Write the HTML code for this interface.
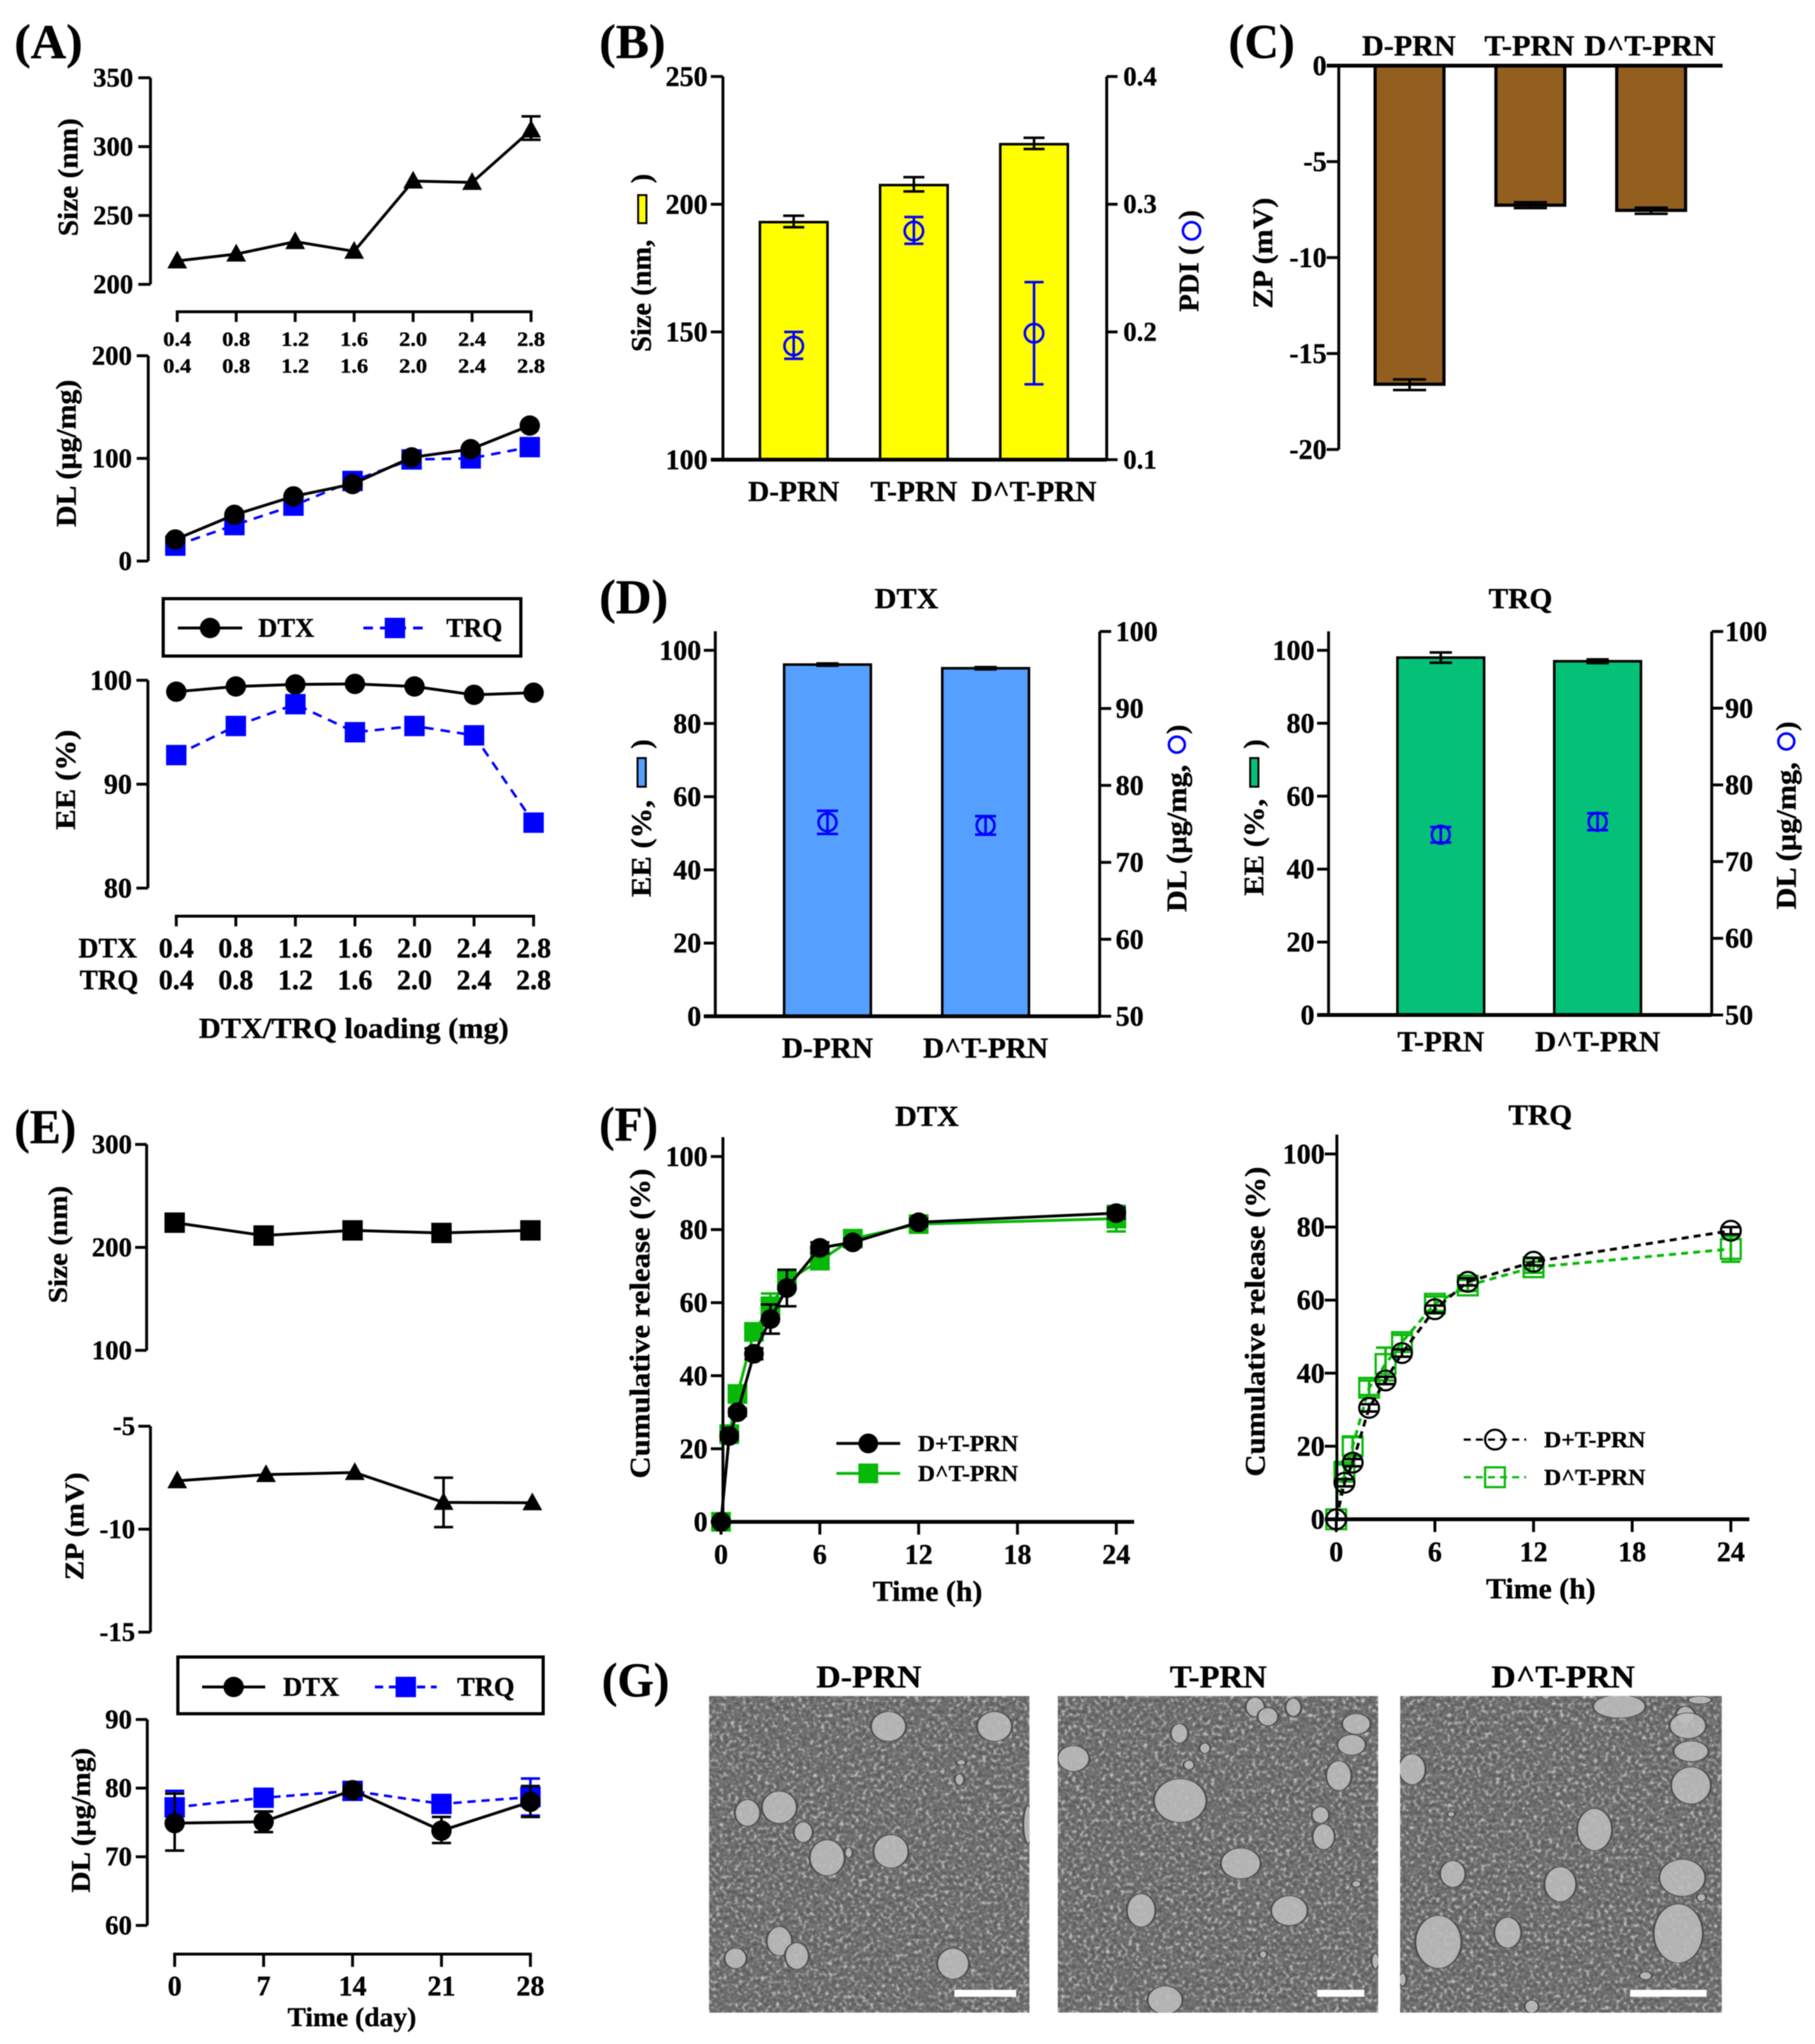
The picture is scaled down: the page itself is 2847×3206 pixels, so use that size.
<!DOCTYPE html>
<html lang="en">
<head>
<meta charset="utf-8">
<title>Nanoparticle characterisation figure</title>
<style>
html,body{margin:0;padding:0;background:#fff;width:2847px;height:3206px;overflow:hidden}
svg{display:block;filter:blur(.7px)}
text{font-family:"Liberation Serif",serif;font-weight:bold;fill:#000;stroke:#000;stroke-width:.5px}
</style>
</head>
<body>
<svg id="figure" xmlns="http://www.w3.org/2000/svg" width="2847" height="3206" viewBox="0 0 2847 3206">
<defs>
<filter id="grain" x="0" y="0" width="100%" height="100%" color-interpolation-filters="sRGB">
<feTurbulence type="fractalNoise" baseFrequency="0.17" numOctaves="2" seed="7"/>
<feColorMatrix type="matrix" values="1.6 0 0 0 -0.3  1.6 0 0 0 -0.3  1.6 0 0 0 -0.3  0 0 0 0 1"/>
<feComponentTransfer>
<feFuncR type="table" tableValues="0.34 0.36 0.39 0.42 0.45 0.55 0.72 0.78"/>
<feFuncG type="table" tableValues="0.34 0.36 0.39 0.42 0.45 0.55 0.72 0.78"/>
<feFuncB type="table" tableValues="0.34 0.36 0.39 0.42 0.45 0.55 0.72 0.78"/>
</feComponentTransfer>
<feGaussianBlur stdDeviation="0.8"/>
</filter>
<clipPath id="clip-a"><rect x="1112" y="2660" width="503" height="497"/></clipPath>
<clipPath id="clip-b"><rect x="1659" y="2660" width="503" height="497"/></clipPath>
<clipPath id="clip-c"><rect x="2196" y="2660" width="505" height="497"/></clipPath>
</defs>

<g clip-path="url(#clip-a)">
<rect x="1112" y="2660" width="503" height="497" filter="url(#grain)"/>
<g transform="translate(900,2580) scale(1.25,.4023)" fill="#bdbdbd" fill-opacity=".88" stroke="#4d4d4d" stroke-width="2.5">
<ellipse cx="395" cy="318" rx="22" ry="58"/>
<ellipse cx="528" cy="318" rx="22" ry="58"/>
<ellipse cx="218" cy="655" rx="16" ry="52"/>
<ellipse cx="258" cy="633" rx="22" ry="63"/>
<ellipse cx="288" cy="730" rx="12" ry="40"/>
<ellipse cx="318" cy="830" rx="22" ry="70"/>
<ellipse cx="398" cy="805" rx="22" ry="65"/>
<ellipse cx="203" cy="1222" rx="14" ry="40"/>
<ellipse cx="258" cy="1155" rx="16" ry="57"/>
<ellipse cx="280" cy="1213" rx="15" ry="52"/>
<ellipse cx="476" cy="1243" rx="20" ry="60"/>
<ellipse cx="345" cy="810" rx="5" ry="20"/>
<ellipse cx="484" cy="525" rx="6" ry="22"/>
<ellipse cx="486" cy="458" rx="6" ry="10"/>
<ellipse cx="570" cy="700" rx="6" ry="75"/>
</g>
<rect x="1497" y="3121" width="97" height="11" fill="#fff"/>
</g>

<g clip-path="url(#clip-b)">
<rect x="1659" y="2660" width="503" height="497" filter="url(#grain)"/>
<g transform="translate(900,2580) scale(1.25,.4023)" fill="#bdbdbd" fill-opacity=".88" stroke="#4d4d4d" stroke-width="2.5">
<ellipse cx="855" cy="242" rx="12" ry="38"/>
<ellipse cx="871" cy="280" rx="13" ry="35"/>
<ellipse cx="903" cy="243" rx="10" ry="35"/>
<ellipse cx="982" cy="308" rx="18" ry="40"/>
<ellipse cx="976" cy="390" rx="18" ry="40"/>
<ellipse cx="760" cy="345" rx="11" ry="38"/>
<ellipse cx="792" cy="403" rx="7" ry="20"/>
<ellipse cx="627" cy="443" rx="20" ry="50"/>
<ellipse cx="772" cy="468" rx="7" ry="18"/>
<ellipse cx="960" cy="510" rx="16" ry="58"/>
<ellipse cx="761" cy="607" rx="33" ry="85"/>
<ellipse cx="937" cy="663" rx="11" ry="32"/>
<ellipse cx="941" cy="748" rx="14" ry="50"/>
<ellipse cx="837" cy="852" rx="25" ry="60"/>
<ellipse cx="898" cy="1036" rx="23" ry="58"/>
<ellipse cx="712" cy="1035" rx="18" ry="65"/>
<ellipse cx="742" cy="1385" rx="22" ry="55"/>
<ellipse cx="1006" cy="1232" rx="5" ry="30"/>
<ellipse cx="982" cy="932" rx="6" ry="12"/>
<ellipse cx="865" cy="1207" rx="5" ry="14"/>
</g>
<rect x="2066" y="3121" width="74" height="11" fill="#fff"/>
</g>

<g clip-path="url(#clip-c)">
<rect x="2196" y="2660" width="505" height="497" filter="url(#grain)"/>
<g transform="translate(900,2580) scale(1.25,.4023)" fill="#bdbdbd" fill-opacity=".88" stroke="#4d4d4d" stroke-width="2.5">
<ellipse cx="1312" cy="240" rx="33" ry="45"/>
<ellipse cx="1413" cy="215" rx="15" ry="15"/>
<ellipse cx="1395" cy="275" rx="12" ry="35"/>
<ellipse cx="1398" cy="315" rx="23" ry="50"/>
<ellipse cx="1402" cy="415" rx="22" ry="40"/>
<ellipse cx="1402" cy="548" rx="25" ry="72"/>
<ellipse cx="1052" cy="485" rx="17" ry="60"/>
<ellipse cx="1281" cy="720" rx="22" ry="82"/>
<ellipse cx="1103" cy="893" rx="16" ry="52"/>
<ellipse cx="1238" cy="933" rx="20" ry="68"/>
<ellipse cx="1391" cy="908" rx="29" ry="72"/>
<ellipse cx="1386" cy="1125" rx="31" ry="115"/>
<ellipse cx="1085" cy="1158" rx="29" ry="103"/>
<ellipse cx="1172" cy="1122" rx="17" ry="60"/>
<ellipse cx="1202" cy="1410" rx="9" ry="25"/>
<ellipse cx="1101" cy="660" rx="5" ry="10"/>
<ellipse cx="1345" cy="1290" rx="8" ry="15"/>
<ellipse cx="1415" cy="985" rx="6" ry="15"/>
<ellipse cx="1040" cy="1305" rx="5" ry="25"/>
</g>
<rect x="2557" y="3121" width="120" height="11" fill="#fff"/>
</g>
</svg>

<script>
/* ---- data arrays ---- */
const loadingCats = ['0.4','0.8','1.2','1.6','2.0','2.4','2.8'];
const aSizeTicks = [200,250,300,350];
const aSizeValues = [217,222,231,224,275,274,312];
const aSizeErrHigh = [null,null,null,null,null,null,322];
const aSizeErrLow = [null,null,null,null,null,null,305];
const aDlTicks = [0,100,200];
const aDlDtx = [21,45,63,75,101,109,132];
const aDlTrq = [15,35,54,78,99,100,111];
const aEeTicks = [80,90,100];
const aEeDtx = [98.9,99.4,99.6,99.65,99.4,98.6,98.8];
const aEeTrq = [92.8,95.6,97.7,95,95.6,94.7,86.3];

const bCats = ['D-PRN','T-PRN','D^T-PRN'];
const bSizeTicks = [100,150,200,250];
const bPdiTicks = ['0.1','0.2','0.3','0.4'];
const bSize = [193,207.5,223.5];
const bSizeHigh = [195.5,210.6,226];
const bSizeLow = [191,205,221.6];
const bPdi = [0.189,0.279,0.199];
const bPdiHigh = [0.2,0.29,0.239];
const bPdiLow = [0.179,0.269,0.159];

const cTicks = [0,-5,-10,-15,-20];
const cZp = [-16.6,-7.27,-7.54];
const cZpLow = [-16.9,-7.42,-7.72];
const cZpHigh = [-16.35,-7.12,-7.4];

const dCatsDtx = ['D-PRN','D^T-PRN'];
const dCatsTrq = ['T-PRN','D^T-PRN'];
const dEeTicks = [0,20,40,60,80,100];
const dDlTicks = [50,60,70,80,90,100];
const dEeDtx = [96.1,95.1];
const dEeDtxErr = [0.3,0.3];
const dDlDtx = [75.2,74.8];
const dDlDtxErr = [1.5,1.2];
const dEeTrq = [98,97];
const dEeTrqErr = [1.4,0.5];
const dDlTrq = [73.5,75.2];
const dDlTrqErr = [1,1.1];

const eDays = [0,7,14,21,28];
const eSizeTicks = [100,200,300];
const eSize = [224,211.5,216.5,214,216.5];
const eZpTicks = [-5,-10,-15];
const eZp = [-7.65,-7.35,-7.25,-8.7,-8.72];
const eZpHigh = [null,null,null,-7.5,null];
const eZpLow = [null,null,null,-9.9,null];
const eDlTicks = [60,70,80,90];
const eDlDtx = [74.9,75.1,79.7,73.8,78];
const eDlDtxHigh = [79.2,76.6,80.4,75.8,80.3];
const eDlDtxLow = [70.9,73.6,79,72,75.8];
const eDlTrq = [77.2,78.6,79.6,77.7,78.7];
const eDlTrqHigh = [79.6,79.5,80.5,78.5,81.4];
const eDlTrqLow = [74.8,77.5,78.7,76.9,76];

const fHours = [0,0.5,1,2,3,4,6,8,12,24];
const fXTicks = [0,6,12,18,24];
const fYTicks = [0,20,40,60,80,100];
const fDtxDT = [0,23.5,30,46,55.5,64,75,76.5,82,84.5];
const fDtxDTErr = [0,1,1,1.5,4,5,1.5,1,1,1.5];
const fDtxDaT = [0,24,35,52,59,66,71.5,77.5,81.5,83];
const fDtxDaTErr = [0,1.5,2,2,3.5,2,2,1.5,1.5,3.5];
const fTrqDT = [0,10,15.5,30.5,38,45.5,57.5,65,70.5,79];
const fTrqDTErr = [0,1,1,1,1,1,1,1,1,1];
const fTrqDaT = [0,13,20,36,42.5,48.5,59,64,69,74];
const fTrqDaTErr = [0,2,2.5,2,4.5,2,2,1.5,1.5,3.5];

const gCats = ['D-PRN','T-PRN','D^T-PRN'];

/* ---- helpers ---- */
const NS = 'http://www.w3.org/2000/svg';
const root = document.getElementById('figure');
function make(tag, name) {
  const el = document.createElementNS(NS, tag);
  
  
  root.appendChild(el);
  return el;
}
function scale(v0, v1, p0, p1) { return v => p0 + (v - v0) * (p1 - p0) / (v1 - v0); }
function line(name, x1, y1, x2, y2, w = 4.5, color = '#000', dash = null) {
  const el = make('line', name);
  el.setAttribute('x1', x1); el.setAttribute('y1', y1);
  el.setAttribute('x2', x2); el.setAttribute('y2', y2);
  el.setAttribute('stroke', color); el.setAttribute('stroke-width', w);
  if (dash) el.setAttribute('stroke-dasharray', dash);
  return el;
}
function label(name, str, x, y, size, anchor = 'middle', len = null, rot = false, color = '#000') {
  const el = make('text', name);
  el.textContent = str;
  el.setAttribute('x', x);
  el.setAttribute('y', y + size * 0.33);
  el.setAttribute('font-size', size);
  el.setAttribute('text-anchor', anchor);
  el.style.fill = color;
  if (len) { el.setAttribute('textLength', len); el.setAttribute('lengthAdjust', 'spacingAndGlyphs'); }
  if (rot) el.setAttribute('transform', 'rotate(-90 ' + x + ' ' + y + ')');
  return el;
}
function rectBox(name, x, y, w, h, fill, stroke = '#000', sw = 4) {
  const el = make('rect', name);
  el.setAttribute('x', x); el.setAttribute('y', y);
  el.setAttribute('width', w); el.setAttribute('height', h);
  el.setAttribute('fill', fill); el.setAttribute('stroke', stroke); el.setAttribute('stroke-width', sw);
  return el;
}
function mark(kind, name, x, y, size, color, open = false, sw = 4) {
  let el;
  if (kind === 'circle') {
    el = make('circle', name);
    el.setAttribute('cx', x); el.setAttribute('cy', y); el.setAttribute('r', size / 2);
  } else if (kind === 'square') {
    el = make('rect', name);
    el.setAttribute('x', x - size / 2); el.setAttribute('y', y - size / 2);
    el.setAttribute('width', size); el.setAttribute('height', size);
  } else {
    el = make('polygon', name);
    const h = size * 0.9;
    el.setAttribute('points', (x - size / 2) + ',' + (y + h * 0.42) + ' ' + (x + size / 2) + ',' + (y + h * 0.42) + ' ' + x + ',' + (y - h * 0.58));
  }
  el.setAttribute('fill', open ? 'none' : color);
  if (open) { el.setAttribute('stroke', color); el.setAttribute('stroke-width', sw); }
  return el;
}
function yAxis(prefix, axisX, sy, ticks, labels, labelX, side, size, tickLen, lo, hi, w = 4.5) {
  line(prefix + '-y-axis', axisX, sy(lo), axisX, sy(hi), w);
  ticks.forEach((t, i) => {
    const y = sy(t);
    line(prefix + '-y-tick', axisX, y, axisX + side * tickLen, y, w);
    label(prefix + '-y-tick-label', labels[i], labelX, y, size, side < 0 ? 'end' : 'start');
  });
}
function xAxis(prefix, axisY, sx, ticks, tickLen, w = 4.5) {
  line(prefix + '-x-axis', sx(ticks[0]) - w / 2, axisY, sx(ticks[ticks.length - 1]) + w / 2, axisY, w);
  ticks.forEach(t => { line(prefix + '-x-tick', sx(t), axisY, sx(t), axisY + tickLen, w); });
}
function series(name, xs, ys, sx, sy, color, w = 4.5, dash = null) {
  const el = make('polyline', name);
  el.setAttribute('points', xs.map((x, i) => sx(x) + ',' + sy(ys[i])).join(' '));
  el.setAttribute('fill', 'none');
  el.setAttribute('stroke', color);
  el.setAttribute('stroke-width', w);
  if (dash) el.setAttribute('stroke-dasharray', dash);
  return el;
}
function errorBar(name, x, yHigh, yLow, cap, color = '#000', w = 4) {
  line(name, x, yHigh, x, yLow, w, color);
  line(name + '-cap', x - cap / 2, yHigh, x + cap / 2, yHigh, w, color);
  line(name + '-cap', x - cap / 2, yLow, x + cap / 2, yLow, w, color);
}
function legendLine(name, x1, x2, y, kind, color, text, tx, tlen, size, dash = null, open = false, mSize = 32, w = 4.5) {
  line(name + '-line', x1, y, x2, y, w, color, dash);
  mark(kind, name + '-marker', (x1 + x2) / 2, y, mSize, color, open, w);
  label(name + '-label', text, tx, y, size, 'start', tlen);
}
const loadNum = loadingCats.map(parseFloat);
const BLUE = '#0000ff', GREEN = '#08b808', DASH = '15 11';

/* ---- panel letters ---- */
label('panel-label-a', '(A)', 76, 66, 76, 'middle', 107);
label('panel-label-b', '(B)', 992, 66, 76, 'middle', 104);
label('panel-label-c', '(C)', 1979, 66, 76, 'middle', 104);
label('panel-label-d', '(D)', 994, 937, 76, 'middle', 108);
label('panel-label-e', '(E)', 71, 1768, 76, 'middle', 97);
label('panel-label-f', '(F)', 986, 1764, 76, 'middle', 92);
label('panel-label-g', '(G)', 997, 2636, 76, 'middle', 106);

/* ---- panel A ---- */
{
  const sy = scale(200, 350, 446, 122), sx = scale(0.4, 2.8, 278, 833);
  yAxis('a-size', 236, sy, aSizeTicks, aSizeTicks.map(String), 209, -1, 42, 19, 200, 350);
  label('a-size-y-title', 'Size (nm)', 107, 278, 44, 'middle', 185, true);
  xAxis('a-size', 489, sx, loadNum, 16);
  loadingCats.forEach((c, i) => {
    label('a-size-x-label-dtx', c, sx(loadNum[i]), 532, 32, 'middle', 44);
    label('a-size-x-label-trq', c, sx(loadNum[i]), 574, 32, 'middle', 44);
  });
  aSizeValues.forEach((v, i) => {
    if (aSizeErrHigh[i] !== null) errorBar('a-size-error', sx(loadNum[i]), sy(aSizeErrHigh[i]), sy(aSizeErrLow[i]), 30);
  });
  series('a-size-line', loadNum, aSizeValues, sx, sy, '#000');
  aSizeValues.forEach((v, i) => { mark('triangle', 'a-size-point', sx(loadNum[i]), sy(v), 31, '#000'); });
}
{
  const sy = scale(0, 200, 880, 558), sx = scale(0.4, 2.8, 275, 831);
  yAxis('a-dl', 232.5, sy, aDlTicks, aDlTicks.map(String), 207, -1, 42, 18, 0, 200);
  label('a-dl-y-title', 'DL (µg/mg)', 104, 711, 44, 'middle', 231, true);
  series('a-dl-trq-line', loadNum, aDlTrq, sx, sy, BLUE, 4, DASH);
  aDlTrq.forEach((v, i) => { mark('square', 'a-dl-trq-point', sx(loadNum[i]), sy(v), 32, BLUE); });
  series('a-dl-dtx-line', loadNum, aDlDtx, sx, sy, '#000');
  aDlDtx.forEach((v, i) => { mark('circle', 'a-dl-dtx-point', sx(loadNum[i]), sy(v), 32, '#000'); });
}
rectBox('a-legend-box', 256, 939, 561, 90, '#fff', '#000', 5);
legendLine('a-legend-dtx', 279, 380, 985, 'circle', '#000', 'DTX', 405, 88, 42);
legendLine('a-legend-trq', 570, 669, 985, 'square', BLUE, 'TRQ', 700, 88, 42, DASH);
{
  const sy = scale(80, 100, 1393, 1067), sx = scale(0.4, 2.8, 276.5, 837);
  yAxis('a-ee', 232, sy, aEeTicks, aEeTicks.map(String), 207, -1, 44, 18, 80, 100);
  label('a-ee-y-title', 'EE (%)', 103, 1223, 44, 'middle', 157, true);
  xAxis('a-ee', 1437, sx, loadNum, 16);
  label('a-row-label-dtx', 'DTX', 215, 1487, 44, 'end', 92);
  label('a-row-label-trq', 'TRQ', 217, 1537, 44, 'end', 92);
  loadingCats.forEach((c, i) => {
    label('a-ee-x-label-dtx', c, sx(loadNum[i]), 1487, 44);
    label('a-ee-x-label-trq', c, sx(loadNum[i]), 1537, 44);
  });
  label('a-x-title', 'DTX/TRQ loading (mg)', 555, 1613, 46, 'middle', 486);
  series('a-ee-dtx-line', loadNum, aEeDtx, sx, sy, '#000');
  aEeDtx.forEach((v, i) => { mark('circle', 'a-ee-dtx-point', sx(loadNum[i]), sy(v), 32, '#000'); });
  series('a-ee-trq-line', loadNum, aEeTrq, sx, sy, BLUE, 4, DASH);
  aEeTrq.forEach((v, i) => { mark('square', 'a-ee-trq-point', sx(loadNum[i]), sy(v), 32, BLUE); });
}

/* ---- panel B ---- */
{
  const sy = scale(100, 250, 721, 120), sp = scale(0.1, 0.4, 721, 120), sx = scale(0, 2, 1245, 1622);
  bSize.forEach((v, i) => {
    rectBox('b-size-bar', sx(i) - 53, sy(v), 106, 721 - sy(v), '#ffff00');
    errorBar('b-size-error', sx(i), sy(bSizeHigh[i]), sy(bSizeLow[i]), 33);
  });
  yAxis('b-size', 1134, sy, bSizeTicks, bSizeTicks.map(String), 1110, -1, 44, 19, 100, 250);
  yAxis('b-pdi', 1736, sp, bPdiTicks.map(parseFloat), bPdiTicks, 1762, 1, 42, 17, 0.1, 0.4);
  line('b-baseline', 1115, 721, 1736, 721, 6);
  bPdi.forEach((v, i) => {
    errorBar('b-pdi-error', sx(i), sp(bPdiHigh[i]), sp(bPdiLow[i]), 30, BLUE);
    mark('circle', 'b-pdi-point', sx(i), sp(v), 29, BLUE, true, 4);
  });
  bCats.forEach((c, i) => { label('b-x-label', c, sx(i), 771, 46); });
  label('b-size-title', 'Size (nm,', 1006, 464, 44, 'middle', 176, true);
  rectBox('b-size-swatch', 1001, 306, 13, 44, '#ffff00', '#000', 3);
  label('b-size-title-close', ')', 1006, 280, 44, 'middle', null, true);
  label('b-pdi-title', 'PDI (', 1865, 437, 44, 'middle', 104, true);
  mark('circle', 'b-pdi-legend-circle', 1869, 362, 27, BLUE, true, 4);
  label('b-pdi-title-close', ')', 1865, 337, 44, 'middle', null, true);
}

/* ---- panel C ---- */
{
  const sy = scale(0, -20, 103, 705), sx = scale(0, 2, 2211, 2590);
  cZp.forEach((v, i) => {
    rectBox('c-zp-bar', sx(i) - 54, 103, 108, sy(v) - 103, '#935f1f', '#000', 5);
    errorBar('c-zp-error', sx(i), sy(cZpHigh[i]), sy(cZpLow[i]), 52);
  });
  yAxis('c-zp', 2100, sy, cTicks, cTicks.map(String), 2081, -1, 44, 19, -20, 0);
  line('c-top-axis', 2081, 103, 2702, 103, 6);
  bCats.forEach((c, i) => { label('c-x-label', c, [2210, 2399, 2588][i], 72, 46, 'middle', [147, 141, 206][i]); });
  label('c-y-title', 'ZP (mV)', 1981, 397, 44, 'middle', 174, true);
}

/* ---- panel D ---- */
function panelD(prefix, axisL, axisR, y0, cats, bars, barErr, dl, dlErr, c0, c1, fill, catY, titleX, titleText, eeX, eeMid, dlX, dlMid, cy, closeY, lblL, lblR) {
  const sy = scale(0, 100, y0, 1020), sr = scale(50, 100, y0, 990.5), sx = scale(0, 1, c0, c1);
  label(prefix + '-title', titleText, titleX, 939, 46, 'middle', 100);
  bars.forEach((v, i) => {
    rectBox(prefix + '-ee-bar', sx(i) - 68, sy(v), 136, y0 - sy(v), fill);
    errorBar(prefix + '-ee-error', sx(i), sy(v + barErr[i]), sy(v - barErr[i]), 35);
    errorBar(prefix + '-dl-error', sx(i), sr(dl[i] + dlErr[i]), sr(dl[i] - dlErr[i]), 33, BLUE);
    mark('circle', prefix + '-dl-point', sx(i), sr(dl[i]), 28, BLUE, true, 4);
    label(prefix + '-x-label', cats[i], sx(i), catY, 46);
  });
  yAxis(prefix + '-ee', axisL, sy, dEeTicks, dEeTicks.map(String), lblL, -1, 44, 18, 0, 105.2);
  yAxis(prefix + '-dl', axisR, sr, dDlTicks, dDlTicks.map(String), lblR, 1, 44, 18, 50, 100);
  line(prefix + '-baseline', axisL - 18, y0, axisR, y0, 6);
  label(prefix + '-ee-title', 'EE (%,', eeX, eeMid, 44, 'middle', 152, true);
  rectBox(prefix + '-ee-swatch', eeX - 6, 1189, 13, 45, fill, '#000', 3);
  label(prefix + '-ee-title-close', ')', eeX, 1167, 44, 'middle', null, true);
  label(prefix + '-dl-title', 'DL (µg/mg,', dlX, dlMid, 44, 'middle', 231, true);
  mark('circle', prefix + '-dl-legend-circle', dlX, cy, 25, BLUE, true, 4);
  label(prefix + '-dl-title-close', ')', dlX, closeY, 44, 'middle', null, true);
}
panelD('d-dtx', 1122, 1725, 1594, dCatsDtx, dEeDtx, dEeDtxErr, dDlDtx, dDlDtxErr, 1298, 1546, '#559fff', 1644, 1422, 'DTX', 1006, 1331, 1846, 1315, 1168, 1144, 1100, 1750);
panelD('d-trq', 2084, 2685, 1592, dCatsTrq, dEeTrq, dEeTrqErr, dDlTrq, dDlTrqErr, 2260, 2506, '#05c077', 1634, 2385, 'TRQ', 1967, 1329, 2802, 1311, 1163, 1139, 2062, 2706);

/* ---- panel E ---- */
{
  const sx = scale(0, 28, 274, 832);
  const sy = scale(100, 300, 2118, 1795);
  yAxis('e-size', 230, sy, eSizeTicks, eSizeTicks.map(String), 207, -1, 42, 18, 100, 300);
  label('e-size-y-title', 'Size (nm)', 91, 1952, 42, 'middle', 184, true);
  series('e-size-line', eDays, eSize, sx, sy, '#000');
  eSize.forEach((v, i) => { mark('square', 'e-size-point', sx(eDays[i]), sy(v), 32, '#000'); });
}
{
  const sx = scale(0, 28, 278, 835);
  const sy = scale(-5, -15, 2237, 2560);
  yAxis('e-zp', 236, sy, eZpTicks, eZpTicks.map(String), 212, -1, 42, 19, -15, -5);
  label('e-zp-y-title', 'ZP (mV)', 117, 2394, 42, 'middle', 169, true);
  eZp.forEach((v, i) => {
    if (eZpHigh[i] !== null) errorBar('e-zp-error', sx(eDays[i]), sy(eZpHigh[i]), sy(eZpLow[i]), 30);
  });
  series('e-zp-line', eDays, eZp, sx, sy, '#000');
  eZp.forEach((v, i) => { mark('triangle', 'e-zp-point', sx(eDays[i]), sy(v), 31, '#000'); });
}
rectBox('e-legend-box', 279, 2599, 573, 89, '#fff', '#000', 5);
legendLine('e-legend-dtx', 317, 416, 2646, 'circle', '#000', 'DTX', 444, 88, 42);
legendLine('e-legend-trq', 588, 685, 2646, 'square', BLUE, 'TRQ', 717, 90, 42, '13 9');
{
  const sx = scale(0, 28, 274, 832);
  const sy = scale(60, 90, 3020, 2697);
  yAxis('e-dl', 231, sy, eDlTicks, eDlTicks.map(String), 207, -1, 42, 18, 60, 90);
  label('e-dl-y-title', 'DL (µg/mg)', 127, 2855, 42, 'middle', 227, true);
  xAxis('e-dl', 3065, sx, eDays, 20);
  eDays.forEach(d => { label('e-x-label', String(d), sx(d), 3115, 44); });
  label('e-x-title', 'Time (day)', 552, 3164, 42, 'middle', 202);
  eDlTrq.forEach((v, i) => { errorBar('e-dl-trq-error', sx(eDays[i]), sy(eDlTrqHigh[i]), sy(eDlTrqLow[i]), 30, BLUE); });
  series('e-dl-trq-line', eDays, eDlTrq, sx, sy, BLUE, 4, '13 9');
  eDlTrq.forEach((v, i) => { mark('square', 'e-dl-trq-point', sx(eDays[i]), sy(v), 32, BLUE); });
  eDlDtx.forEach((v, i) => { errorBar('e-dl-dtx-error', sx(eDays[i]), sy(eDlDtxHigh[i]), sy(eDlDtxLow[i]), 30); });
  series('e-dl-dtx-line', eDays, eDlDtx, sx, sy, '#000');
  eDlDtx.forEach((v, i) => { mark('circle', 'e-dl-dtx-point', sx(eDays[i]), sy(v), 32, '#000'); });
}

/* ---- panel F ---- */
function panelF(prefix, axisX, x0, x24, y0, y100, xEnd, titleText, titleX, titleY, black, blackErr, green, greenErr, open, yTitleX, yTitleMid, labelRight, xLabelY, timeX, timeY) {
  const sx = scale(0, 24, x0, x24), sy = scale(0, 100, y0, y100);
  label(prefix + '-title', titleText, titleX, titleY, 46, 'middle', 100);
  label(prefix + '-y-title', 'Cumulative release (%)', yTitleX, yTitleMid, 44, 'middle', 486, true);
  const dash = open ? '11 8' : null;
  green.forEach((v, i) => { if (greenErr[i]) errorBar(prefix + '-green-error', sx(fHours[i]), sy(v + greenErr[i]), sy(v - greenErr[i]), 30, GREEN); });
  series(prefix + '-green-line', fHours, green, sx, sy, GREEN, 4.5, dash);
  green.forEach((v, i) => { mark('square', prefix + '-green-point', sx(fHours[i]), sy(v), 31, GREEN, open, 3.5); });
  blackErr.forEach((e, i) => { if (e) errorBar(prefix + '-black-error', sx(fHours[i]), sy(black[i] + e), sy(black[i] - e), 30); });
  series(prefix + '-black-line', fHours, black, sx, sy, '#000', 4.5, dash);
  black.forEach((v, i) => { mark('circle', prefix + '-black-point', sx(fHours[i]), sy(v), 31, '#000', open, 3.5); });
  yAxis(prefix, axisX, sy, fYTicks, fYTicks.map(String), labelRight, -1, 44, 19, 0, 105.3);
  line(prefix + '-x-axis', axisX - 19, y0, xEnd, y0, 6);
  fXTicks.forEach(t => {
    line(prefix + '-x-tick', sx(t), y0, sx(t), y0 + 20, 4.5);
    label(prefix + '-x-label', String(t), sx(t), xLabelY, 44);
  });
  label(prefix + '-x-title', 'Time (h)', timeX, timeY, 46, 'middle', 172);
}
panelF('f-dtx', 1134, 1131, 1751, 2387, 1814, 1779, 'DTX', 1454, 1751, fDtxDT, fDtxDTErr, fDtxDaT, fDtxDaTErr, false, 1004, 2076, 1110, 2438, 1455, 2496);
legendLine('f-dtx-legend-dt', 1312, 1412, 2264, 'circle', '#000', 'D+T-PRN', 1440, 157, 36, null, false, 31);
legendLine('f-dtx-legend-dat', 1312, 1412, 2311, 'square', GREEN, 'D^T-PRN', 1440, 157, 36, null, false, 31);
panelF('f-trq', 2097, 2096, 2715, 2383, 1810, 2744, 'TRQ', 2416, 1749, fTrqDT, fTrqDTErr, fTrqDaT, fTrqDaTErr, true, 1969, 2073, 2078, 2434, 2417, 2492);
legendLine('f-trq-legend-dt', 2296, 2394, 2258, 'circle', '#000', 'D+T-PRN', 2422, 159, 36, '11 8', true, 31, 3.5);
legendLine('f-trq-legend-dat', 2296, 2394, 2317, 'square', GREEN, 'D^T-PRN', 2422, 159, 36, '11 8', true, 31, 3.5);

/* ---- panel G labels ---- */
gCats.forEach((c, i) => { label('g-image-title', c, [1363, 1911, 2452][i], 2630, 50, 'middle', [165, 152, 225][i]); });
</script>
</body>
</html>
